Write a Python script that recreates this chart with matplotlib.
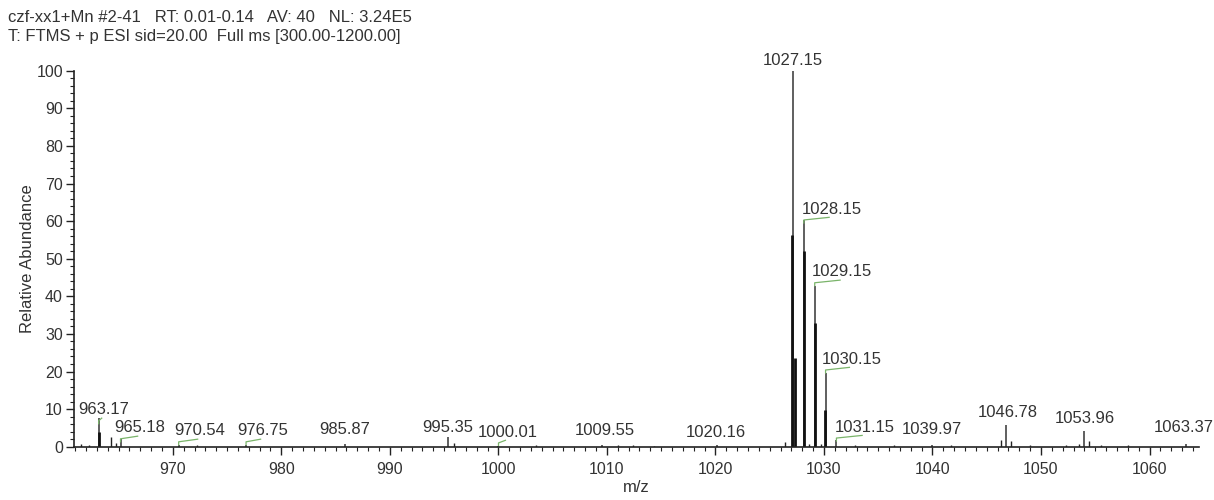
import matplotlib
matplotlib.use("Agg")
import matplotlib.pyplot as plt
from matplotlib.ticker import MultipleLocator

plt.rcParams['font.family'] = ['Liberation Sans', 'DejaVu Sans']

# Labelled centroid peaks (m/z, relative abundance %)
label_mz = [963.17, 965.18, 970.54, 976.75, 985.87, 995.35, 1000.01, 1009.55,
            1020.16, 1027.15, 1028.15, 1029.15, 1030.15, 1031.15, 1039.97,
            1046.78, 1053.96, 1063.37]
label_int = [7.6, 2.0, 0.4, 0.5, 0.6, 2.5, 0.3, 0.5,
             0.5, 100.0, 60.3, 42.7, 19.7, 1.8, 0.5,
             5.8, 4.3, 0.6]

# Lower profile edges of the isotope cluster (drawn heavier)
edge_mz = [963.20, 1027.06, 1027.37, 1028.13, 1029.17, 1030.13]
edge_int = [3.9, 56.3, 23.6, 52.1, 33.0, 9.8]

# Unlabelled minor peaks
minor_mz = [961.5, 962.3, 964.3, 964.8, 972.2, 995.9, 1003.5, 1011.0, 1012.4,
            1014.3, 1026.4, 1028.6, 1029.7, 1032.9, 1036.5, 1041.7, 1046.3,
            1047.2, 1049.0, 1052.3, 1053.5, 1054.4, 1055.5, 1058.0]
minor_int = [0.8, 0.5, 2.6, 1.0, 0.5, 0.9, 0.4, 0.4, 0.4,
             0.3, 1.2, 0.8, 0.6, 0.5, 0.4, 0.5, 1.8,
             1.5, 0.4, 0.5, 0.8, 1.5, 0.4, 0.4]

# Annotation placement: label centre (m/z, abundance) and whether a leader is drawn
label_x = [963.65, 966.96, 972.49, 978.29, 985.84, 995.32, 1000.85, 1009.78,
           1020.0, 1027.09, 1030.68, 1031.69, 1032.55, 1033.72, 1039.9,
           1046.9, 1054.0, 1063.2]
label_y = [9.8, 5.0, 4.2, 4.2, 4.7, 5.0, 3.9, 4.2,
           3.9, 102.8, 63.2, 46.5, 23.3, 5.2, 4.7,
           9.0, 7.4, 5.0]
leader = [True, True, True, True, False, False, True, False,
          False, False, True, True, True, True, False,
          False, False, False]

header = ["czf-xx1+Mn #2-41   RT: 0.01-0.14   AV: 40   NL: 3.24E5",
          "T: FTMS + p ESI sid=20.00  Full ms [300.00-1200.00]"]

TXT = '#333333'
GREEN = '#7ab46a'

fig = plt.figure(figsize=(12.14, 5.0), dpi=100)
ax = fig.add_axes([0.061, 0.1066, 0.927, 0.752])

ax.vlines(minor_mz, 0, minor_int, color='#222222', lw=1.0)
ax.vlines(label_mz, 0, label_int, color='#444444', lw=1.2)
ax.vlines(edge_mz, 0, edge_int, color='#111111', lw=2.0)

for mz, h, lx, ly, ld in zip(label_mz, label_int, label_x, label_y, leader):
    ax.text(lx, ly, f"{mz:.2f}", ha='center', va='center', fontsize=12,
            color=TXT, clip_on=False)
    if ld:
        y0 = ly - 2.9
        ax.plot([mz, mz, lx - 0.2], [y0 - 0.8, y0, y0 + 0.7], color=GREEN,
                lw=0.9, clip_on=False)

ax.set_xlim(960.9, 1064.6)
ax.set_ylim(0, 100)

ax.xaxis.set_major_locator(MultipleLocator(10))
ax.xaxis.set_minor_locator(MultipleLocator(1))
ax.yaxis.set_major_locator(MultipleLocator(10))
ax.yaxis.set_minor_locator(MultipleLocator(2))
ax.tick_params(which='major', direction='out', length=6, width=1.0,
               labelsize=11.5, labelcolor=TXT, color='#222222')
ax.tick_params(axis='x', which='major', pad=5)
ax.tick_params(axis='y', which='major', pad=2)
ax.tick_params(which='minor', direction='out', length=3, width=0.8,
               color='#222222')

for side in ('top', 'right'):
    ax.spines[side].set_visible(False)
for side in ('left', 'bottom'):
    ax.spines[side].set_color('#222222')
    ax.spines[side].set_linewidth(1.2)

ax.set_xlabel('m/z', fontsize=12, color=TXT, labelpad=2)
ax.set_ylabel('Relative Abundance', fontsize=12, color=TXT, labelpad=1)

fig.text(0.0066, 0.966, header[0], fontsize=12, color=TXT, va='center')
fig.text(0.0066, 0.926, header[1], fontsize=12, color=TXT, va='center')

fig.savefig('out.png', dpi=100, facecolor='white')
